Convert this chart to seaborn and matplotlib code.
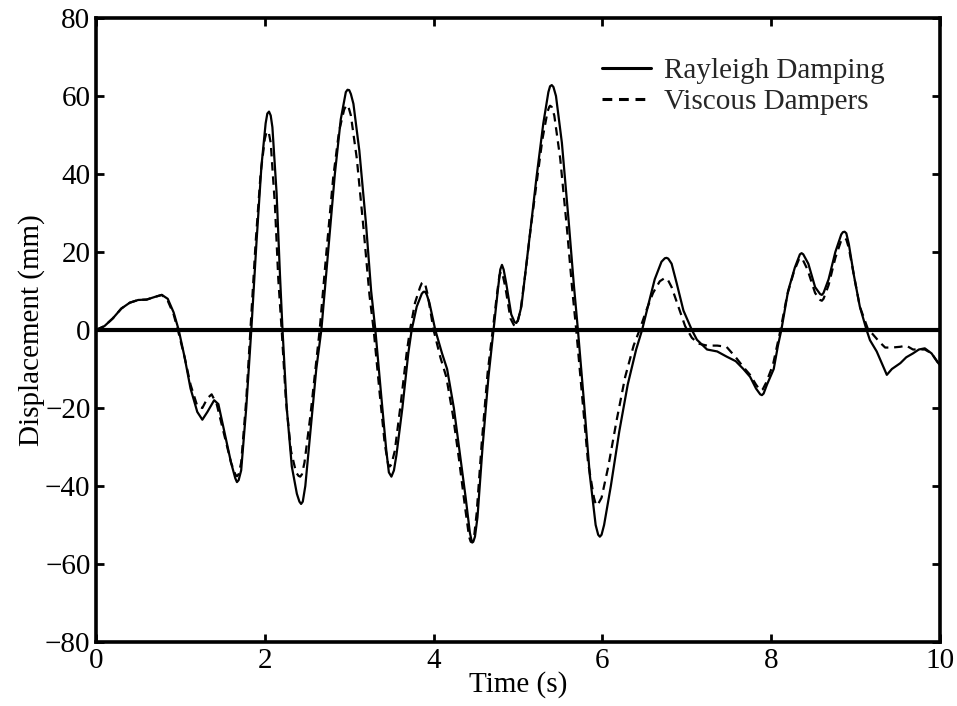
import numpy as np
import pandas as pd
import matplotlib
matplotlib.use("Agg")
import matplotlib.pyplot as plt
import seaborn as sns

# ---- data ----
rayleigh_t = [0.00, 0.10, 0.20, 0.30, 0.40, 0.50, 0.60, 0.70, 0.78, 0.85, 0.92, 0.98,
              1.05, 1.12, 1.20, 1.26, 1.32, 1.40, 1.45, 1.52, 1.60, 1.65, 1.67, 1.69, 1.72, 1.78, 1.84,
              1.90, 1.96, 2.01, 2.03, 2.05, 2.07, 2.09, 2.14, 2.18, 2.21, 2.26, 2.32, 2.38, 2.41, 2.43, 2.45, 2.48,
              2.55, 2.61, 2.67, 2.75, 2.83, 2.90, 2.96, 2.98, 3.00, 3.02, 3.05, 3.12, 3.20, 3.26, 3.31,
              3.38, 3.44, 3.47, 3.50, 3.53, 3.56, 3.63, 3.70, 3.74, 3.80, 3.86, 3.88, 3.90, 3.92, 3.95, 4.02, 4.10,
              4.16, 4.24, 4.31, 4.38, 4.43, 4.45, 4.47, 4.49, 4.52, 4.58, 4.65, 4.71, 4.76, 4.79, 4.81, 4.83, 4.86,
              4.92, 4.96, 4.98, 5.00, 5.04, 5.10, 5.16, 5.22, 5.30, 5.36, 5.38, 5.40, 5.42, 5.45, 5.52, 5.60, 5.66,
              5.71, 5.78, 5.85, 5.92, 5.95, 5.97, 5.99, 6.02, 6.10, 6.20, 6.30, 6.40, 6.47, 6.55, 6.62,
              6.70, 6.74, 6.76, 6.78, 6.82, 6.88, 6.96, 7.06, 7.12, 7.24, 7.36, 7.47, 7.58, 7.67, 7.75,
              7.82, 7.87, 7.89, 7.91, 7.95, 8.03, 8.08, 8.12, 8.20, 8.28, 8.34, 8.36, 8.38, 8.44, 8.52, 8.58, 8.60, 8.62, 8.68,
              8.76, 8.83, 8.85, 8.87, 8.89, 8.92, 8.98, 9.05, 9.13, 9.17, 9.25, 9.32, 9.37, 9.43, 9.53,
              9.60, 9.68, 9.75, 9.82, 9.90, 9.98, 10.00]
rayleigh_d = [0, 1, 3, 5.5, 7, 7.7, 7.8, 8.5, 9, 8, 4.5, 0,
              -7, -15, -21, -23, -21, -18, -19, -26, -34, -38, -39, -38.5, -36, -20, 0,
              22, 42, 53, 55.5, 56, 55, 52, 35, 14, 0, -20, -35, -42, -44, -44.6, -44, -40,
              -24, -10, 0, 20, 40, 54, 61, 61.6, 61.5, 60.5, 58, 46, 27, 10, 0,
              -17, -31, -36.5, -37.6, -36, -32, -20, -6, 0, 6, 9.3, 9.8, 9.8, 9, 7, 0, -6,
              -10, -20, -31.6, -43, -52, -54, -54.3, -53, -48, -30, -12, 0, 10, 15.5, 16.7, 15.5, 12,
              4, 2, 1.8, 2.5, 6, 17, 28, 39.3, 53, 61, 62.5, 62.8, 62.3, 60, 48, 28, 12,
              0, -18, -37, -50, -52.5, -53, -52.5, -50, -40, -26, -14, -5, 0, 7, 13,
              17.5, 18.4, 18.5, 18.3, 17, 12, 5, 0, -2.5, -5, -5.5, -6.8, -8, -10, -12,
              -15, -16.5, -16.7, -16.3, -14, -10, -4, 0, 10, 16, 19.4, 19.7, 19.4, 17, 11, 9.2, 9, 9.5, 13,
              20, 24.5, 25.1, 25.2, 24.8, 22, 14, 6, 0, -2.6, -5.5, -9, -11.5, -10, -8.5,
              -7, -6, -5, -4.7, -6, -8.5, -9]

viscous_t = [0.00, 0.10, 0.20, 0.30, 0.40, 0.50, 0.60, 0.70, 0.78, 0.85, 0.92, 0.97,
             1.05, 1.12, 1.20, 1.26, 1.32, 1.37, 1.43, 1.52, 1.60, 1.65, 1.67, 1.69, 1.72, 1.78, 1.83,
             1.89, 1.95, 2.00, 2.02, 2.03, 2.05, 2.07, 2.12, 2.16, 2.20, 2.25, 2.31, 2.37, 2.40, 2.42, 2.44, 2.47,
             2.54, 2.60, 2.65, 2.73, 2.81, 2.88, 2.94, 2.96, 2.97, 2.99, 3.02, 3.09, 3.17, 3.24, 3.29,
             3.36, 3.42, 3.46, 3.48, 3.50, 3.54, 3.61, 3.68, 3.72, 3.78, 3.84, 3.86, 3.88, 3.90, 3.93, 4.00, 4.08,
             4.15, 4.23, 4.30, 4.37, 4.42, 4.44, 4.46, 4.48, 4.51, 4.57, 4.64, 4.70, 4.75, 4.78, 4.80, 4.82, 4.85,
             4.91, 4.95, 4.97, 4.99, 5.03, 5.09, 5.15, 5.21, 5.29, 5.35, 5.37, 5.38, 5.40, 5.43, 5.50, 5.58, 5.64,
             5.69, 5.76, 5.83, 5.90, 5.92, 5.93, 5.95, 5.99, 6.07, 6.17, 6.27, 6.37, 6.44, 6.52, 6.60,
             6.68, 6.73, 6.75, 6.77, 6.82, 6.90, 6.98, 7.06, 7.14, 7.24, 7.36, 7.47, 7.58, 7.67, 7.75,
             7.82, 7.86, 7.88, 7.90, 7.94, 8.02, 8.07, 8.11, 8.19, 8.27, 8.33, 8.35, 8.37, 8.43, 8.52, 8.58, 8.60, 8.62, 8.68,
             8.76, 8.83, 8.85, 8.87, 8.89, 8.92, 8.98, 9.05, 9.15, 9.20, 9.28, 9.35, 9.43, 9.53,
             9.60, 9.68, 9.75, 9.82, 9.90, 9.98, 10.00]
viscous_d = [0, 1, 3, 5.5, 7, 7.7, 7.8, 8.5, 9, 7.5, 4, 0,
             -7, -14, -19.5, -20, -17.5, -16.5, -19, -27, -34, -37, -37.5, -37, -34, -18, 0,
             22, 40, 49, 50.7, 51, 50.3, 48, 32, 13, 0, -18, -31, -36.5, -37.4, -37.6, -37, -34,
             -22, -10, 0, 20, 39, 51, 56.5, 57.4, 57.7, 57.3, 55, 44, 26, 9, 0,
             -16, -29, -34.3, -35, -34.5, -31, -19, -6, 0, 7, 11, 12, 12.3, 11.8, 9, 0, -7,
             -12, -22, -33, -45, -53, -54.3, -54.5, -53, -47, -29, -11, 0, 9, 14, 15, 14, 11,
             3, 1.3, 1, 1.8, 5, 15, 26, 36, 49, 56, 57.2, 57.5, 57.2, 55, 44, 26, 11,
             0, -17, -34, -43, -44.6, -45, -44.6, -43, -35, -23, -12, -4, 0, 5, 9.5,
             12.5, 13.2, 13.3, 13.1, 11, 6, 1, -2, -3.5, -4, -4, -4.3, -7, -9.5, -11.5,
             -14, -15.2, -15.5, -15.2, -13.5, -9, -4, 0, 9, 15, 18.2, 18.5, 18.2, 15.5, 9.5, 7.7, 7.5, 8, 11.5,
             18.5, 23, 23.4, 23.5, 23.2, 21, 14, 6, 0, -1, -3, -4.5, -4.5, -4.3,
             -4, -5, -5, -5, -6, -8.5, -9]

series_labels = ["Rayleigh Damping", "Viscous Dampers"]
x_ticks = [0, 2, 4, 6, 8, 10]
y_ticks = [-80, -60, -40, -20, 0, 20, 40, 60, 80]
x_label = "Time (s)"
y_label = "Displacement (mm)"

# ---- style ----
sns.set_theme(style="white")
plt.rcParams["font.family"] = ["Liberation Serif", "DejaVu Serif"]
plt.rcParams["axes.unicode_minus"] = True

fig = plt.figure(figsize=(9.57, 7.06), dpi=100)
ax = fig.add_axes([96 / 957, 1 - 642 / 706, (940 - 96) / 957, (642 - 18) / 706])

df_r = pd.DataFrame({"t": rayleigh_t, "d": rayleigh_d})
df_v = pd.DataFrame({"t": viscous_t, "d": viscous_d})

sns.lineplot(data=df_r, x="t", y="d", ax=ax, color="black", linewidth=1.6,
             estimator=None, sort=False, label=series_labels[0])
sns.lineplot(data=df_v, x="t", y="d", ax=ax, color="black", linewidth=1.6,
             estimator=None, sort=False, label=series_labels[1],
             linestyle=(0, (3.8, 2.6)))

ax.axhline(0, color="black", linewidth=3.0, zorder=1)

ax.set_xlim(0, 10)
ax.set_ylim(-80, 80)
ax.set_xticks(x_ticks)
ax.set_yticks(y_ticks)
ax.set_xticklabels([str(v) for v in x_ticks])
ax.set_yticklabels([str(v).replace("-", "\u2212") for v in y_ticks])

ax.tick_params(axis="both", which="major", direction="in", length=6, width=2.0,
               top=True, right=True, bottom=True, left=True,
               labelsize=21, color="black", labelcolor="black", pad=4)
for s in ax.spines.values():
    s.set_visible(True)
    s.set_linewidth(2.6)
    s.set_color("black")

ax.set_xlabel(x_label, fontsize=21, color="black", labelpad=-2)
ax.set_ylabel(y_label, fontsize=21, color="black", labelpad=0)

leg = ax.legend(loc="upper left", bbox_to_anchor=(0.600, 0.937), frameon=False,
                fontsize=21, handlelength=1.65, handletextpad=0.45,
                labelspacing=0.17, borderpad=0, borderaxespad=0)
for h in leg.get_lines():
    h.set_linewidth(2.2)
leg.get_lines()[1].set_linestyle((0, (3.2, 2.2)))

fig.savefig("out.png", dpi=100)
